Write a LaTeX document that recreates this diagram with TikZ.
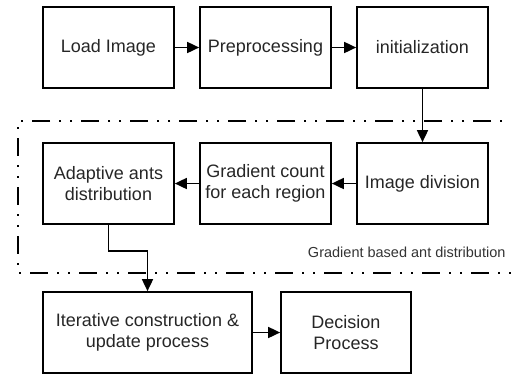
\documentclass[tikz,border=0pt]{standalone}
\usepackage{fontspec}
\setmainfont{Liberation Sans}
\usetikzlibrary{arrows.meta}
\begin{document}
\begin{tikzpicture}[x=1pt,y=-1pt,
  stage/.style={draw, line width=1.7pt, minimum width=131pt, minimum height=81pt,
    align=center, inner sep=2pt, font=\fontsize{18}{21}\selectfont, text=black!85},
  flow/.style={line width=1.7pt, -{Triangle[length=12pt,width=11pt]}},
  groupframe/.style={line width=1.8pt,
    dash pattern=on 18pt off 9pt on 2pt off 9pt on 2pt off 9pt}]
\useasboundingbox (0,0) rectangle (511,376);
\clip (0,0) rectangle (511,376);

% top row
\node[stage] (load) at (108.5,47.5) {Load Image};
\node[stage] (pre)  at (265.5,47.5) {Preprocessing};
\node[stage] (init) at (422.5,47.5) {initialization};

% gradient based ant distribution group
\draw[groupframe] (540,121) -- (18,121) -- (18,273) -- (540,273);
\node[stage] (ada) at (108.5,183.5) {Adaptive ants\\distribution};
\node[stage] (grad) at (265.5,183.5) {Gradient count\\for each region};
\node[stage] (div) at (422.5,183.5) {Image division};
\node[anchor=east, font=\fontsize{14.5}{16}\selectfont, text=black!80] (grouplbl) at (509,252) {Gradient based ant distribution};

% bottom row
\node[stage, minimum width=209pt] (iter) at (147.5,332.5) {Iterative construction \&\\update process};
\node[stage, minimum width=130pt] (dec) at (346,332.5) {Decision\\Process};

% connectors
\draw[flow] (load) -- (pre);
\draw[flow] (pre) -- (init);
\draw[flow] (init) -- (div);
\draw[flow] (div) -- (grad);
\draw[flow] (grad) -- (ada);
\draw[flow] (ada.south) -- ++(0,26) -| (iter.north);
\draw[flow] (iter) -- (dec);
\end{tikzpicture}
\end{document}
